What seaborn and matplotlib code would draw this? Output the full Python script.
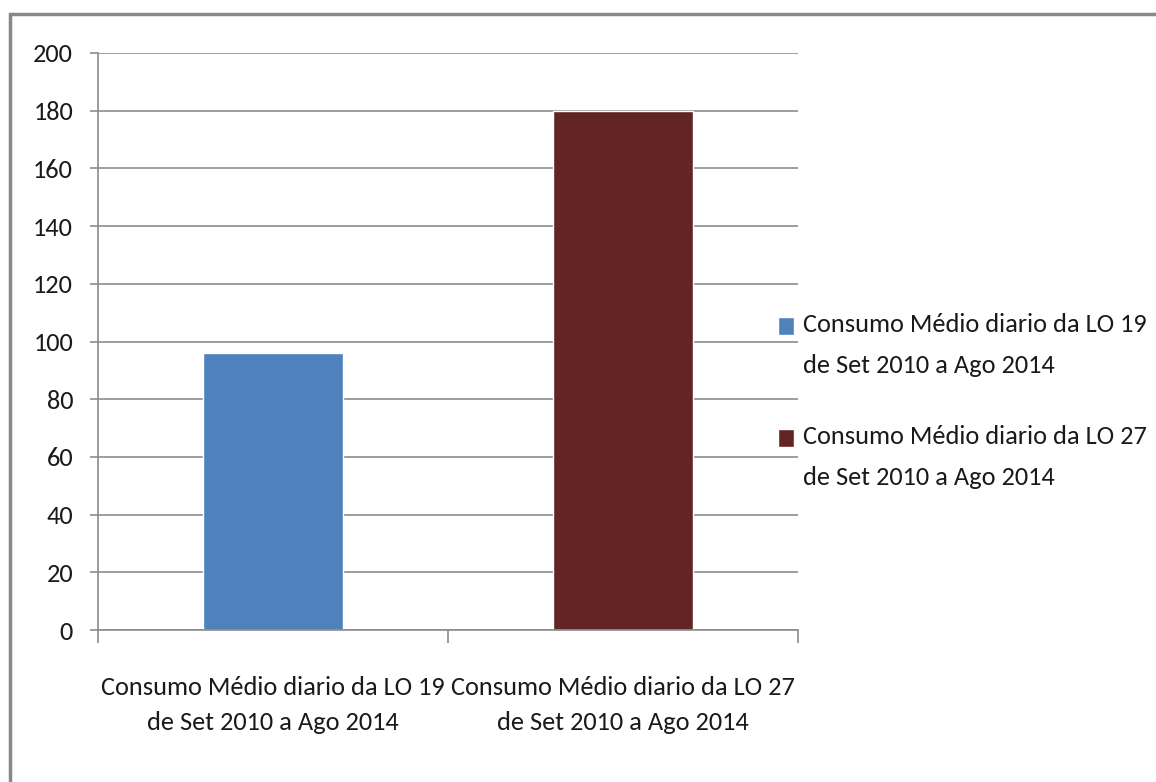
import matplotlib
matplotlib.use("Agg")
import matplotlib.pyplot as plt
import seaborn as sns
import pandas as pd
from matplotlib.patches import Rectangle
from matplotlib.legend_handler import HandlerPatch
from matplotlib import font_manager

categories = ["Consumo Médio diario da LO 19\nde Set 2010 a Ago 2014",
              "Consumo Médio diario da LO 27\nde Set 2010 a Ago 2014"]
values = [96, 180]
colors = ["#4F81BD", "#632523"]
yticks = [0, 20, 40, 60, 80, 100, 120, 140, 160, 180, 200]

sns.set_theme(style="white")
avail = set(f.name for f in font_manager.fontManager.ttflist)
prefs = ["Carlito", "Open Sans Condensed", "Roboto Condensed", "Archivo Narrow",
         "Asap Condensed", "Liberation Sans Narrow", "Liberation Sans"]
fam = [p for p in prefs if p in avail][:1] + ["DejaVu Sans"]
plt.rcParams['font.family'] = fam

df = pd.DataFrame({"cat": categories, "val": values})

fig = plt.figure(figsize=(11.56, 7.82), dpi=100)
ax = fig.add_axes([98/1156, 1-630/782, 700/1156, 577/782])

sns.barplot(data=df, x="cat", y="val", hue="cat", palette=colors, width=0.4,
            ax=ax, legend=True, saturation=1)

FS = 19
ax.set_ylim(0, 200)
ax.set_xlim(-0.5, 1.5)
ax.set_yticks(yticks)
ax.set_xlabel("")
ax.set_ylabel("")
ax.yaxis.grid(True, color="#8c8c8c", linewidth=1.2)
ax.set_axisbelow(True)
for s in ["top", "right"]:
    ax.spines[s].set_visible(False)
for s in ["left", "bottom"]:
    ax.spines[s].set_color("#8c8c8c")
    ax.spines[s].set_linewidth(1.2)

ax.tick_params(axis="y", which="major", length=6, color="#8c8c8c", width=1.2,
               labelsize=FS, pad=12, left=True)
ax.tick_params(axis="x", which="major", length=0, labelsize=FS, pad=33)
ax.set_xticks([-0.5, 0.5, 1.5], minor=True)
ax.tick_params(axis="x", which="minor", length=9, color="#8c8c8c", width=1.2, bottom=True)

for lbl in ax.get_xticklabels():
    lbl.set_linespacing(1.65)
for lbl in ax.get_yticklabels() + ax.get_xticklabels():
    lbl.set_color("#1a1a1a")


def top_square(legend, orig_handle, xdescent, ydescent, width, height, fontsize):
    return Rectangle((-xdescent, -ydescent + 14), width, height)


handles, labels = ax.get_legend_handles_labels()
leg = ax.legend(handles, labels, loc="center left",
                bbox_to_anchor=(778/1156, 1-401/782),
                bbox_transform=fig.transFigure, frameon=False, fontsize=FS,
                handlelength=0.6, handleheight=0.65, handletextpad=0.34,
                labelspacing=1.85, borderpad=0, borderaxespad=0,
                handler_map={h: HandlerPatch(patch_func=top_square) for h in handles})
for t in leg.get_texts():
    t.set_linespacing(1.9)
    t.set_color("#1a1a1a")

fig.patches.append(Rectangle((10/1156, -0.1), 1.2, 1.1 - 14/782,
                             transform=fig.transFigure, fill=False,
                             edgecolor="#888888", linewidth=2.5, figure=fig))

fig.savefig("out.png", dpi=100)
